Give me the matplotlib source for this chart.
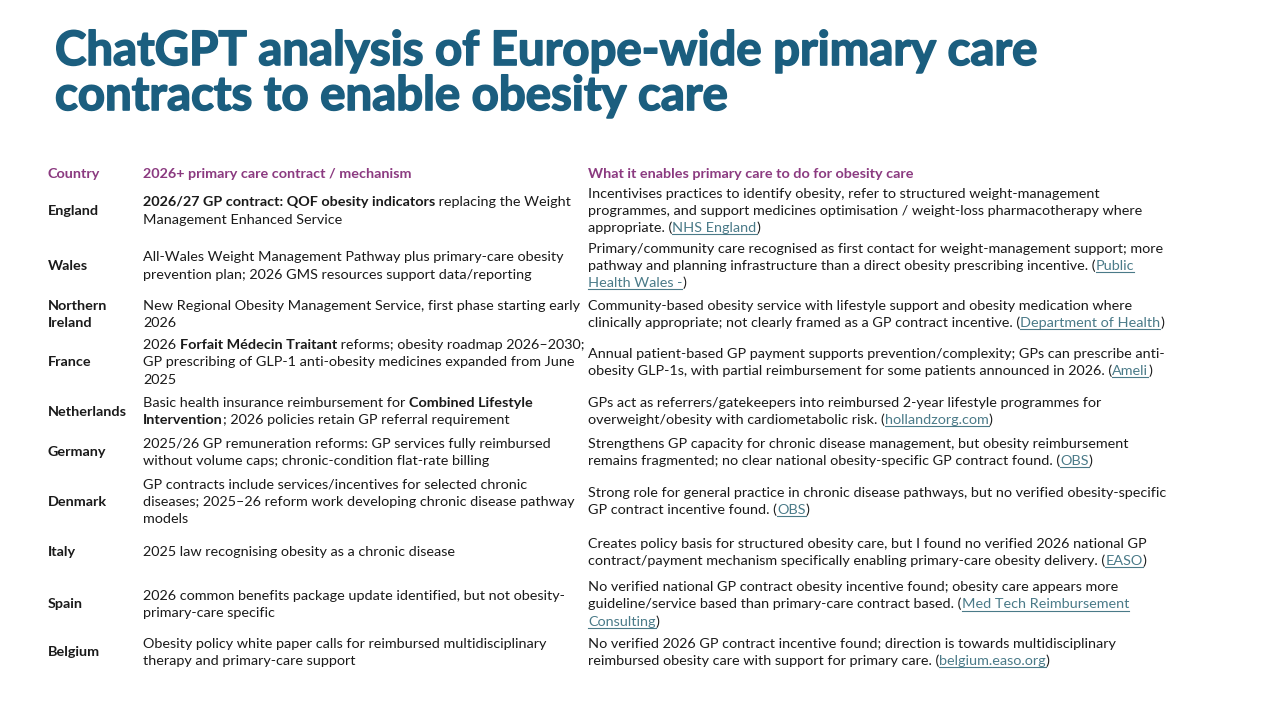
import re
import matplotlib
matplotlib.use("Agg")
import matplotlib.pyplot as plt
import matplotlib.patheffects as pe
from matplotlib.transforms import IdentityTransform
from matplotlib.lines import Line2D

# ---- table content (line breaks as on the slide; **bold**, [link]) ----
title_lines = ["ChatGPT analysis of Europe-wide primary care",
               "contracts to enable obesity care"]

headers = ["Country", "2026+ primary care contract / mechanism",
           "What it enables primary care to do for obesity care"]

countries = ["England", "Wales", "Northern\nIreland", "France", "Netherlands",
             "Germany", "Denmark", "Italy", "Spain", "Belgium"]

mechanisms = [
    ["**2026/27 GP contract: QOF obesity indicators** replacing the Weight",
     "Management Enhanced Service"],
    ["All-Wales Weight Management Pathway plus primary-care obesity",
     "prevention plan; 2026 GMS resources support data/reporting"],
    ["New Regional Obesity Management Service, first phase starting early",
     "2026"],
    ["2026 **Forfait Médecin Traitant** reforms; obesity roadmap 2026–2030;",
     "GP prescribing of GLP-1 anti-obesity medicines expanded from June",
     "2025"],
    ["Basic health insurance reimbursement for **Combined Lifestyle**",
     "**Intervention**; 2026 policies retain GP referral requirement"],
    ["2025/26 GP remuneration reforms: GP services fully reimbursed",
     "without volume caps; chronic-condition flat-rate billing"],
    ["GP contracts include services/incentives for selected chronic",
     "diseases; 2025–26 reform work developing chronic disease pathway",
     "models"],
    ["2025 law recognising obesity as a chronic disease"],
    ["2026 common benefits package update identified, but not obesity-",
     "primary-care specific"],
    ["Obesity policy white paper calls for reimbursed multidisciplinary",
     "therapy and primary-care support"],
]

enables = [
    ["Incentivises practices to identify obesity, refer to structured weight-management",
     "programmes, and support medicines optimisation / weight-loss pharmacotherapy where",
     "appropriate. ([NHS England])"],
    ["Primary/community care recognised as first contact for weight-management support; more",
     "pathway and planning infrastructure than a direct obesity prescribing incentive. ([Public]",
     "[Health Wales -])"],
    ["Community-based obesity service with lifestyle support and obesity medication where",
     "clinically appropriate; not clearly framed as a GP contract incentive. ([Department of Health])"],
    ["Annual patient-based GP payment supports prevention/complexity; GPs can prescribe anti-",
     "obesity GLP-1s, with partial reimbursement for some patients announced in 2026. ([Ameli])"],
    ["GPs act as referrers/gatekeepers into reimbursed 2-year lifestyle programmes for",
     "overweight/obesity with cardiometabolic risk. ([hollandzorg.com])"],
    ["Strengthens GP capacity for chronic disease management, but obesity reimbursement",
     "remains fragmented; no clear national obesity-specific GP contract found. ([OBS])"],
    ["Strong role for general practice in chronic disease pathways, but no verified obesity-specific",
     "GP contract incentive found. ([OBS])"],
    ["Creates policy basis for structured obesity care, but I found no verified 2026 national GP",
     "contract/payment mechanism specifically enabling primary-care obesity delivery. ([EASO])"],
    ["No verified national GP contract obesity incentive found; obesity care appears more",
     "guideline/service based than primary-care contract based. ([Med Tech Reimbursement]",
     "[Consulting])"],
    ["No verified 2026 GP contract incentive found; direction is towards multidisciplinary",
     "reimbursed obesity care with support for primary care. ([belgium.easo.org])"],
]

# ---- layout (pixels, image coordinates from top) ----
W, H = 1280, 720
col_x = [48, 143, 588]
header_base = 178
row_centers = [210, 265, 313.5, 361.5, 410.5, 451.5, 500.5, 551.5, 603.5, 651.5]
line_gap = 17.3
base_off = 5

FONT = "Lato"
BODY = 10.4
TITLE_C = "#1b5e7f"
HEAD_C = "#8b3a80"
TEXT_C = "#1a1a1a"
LINK_C = "#4a7a88"

fig = plt.figure(figsize=(12.8, 7.2), dpi=100)
fig.patch.set_facecolor("white")
renderer = fig.canvas.get_renderer()
ident = IdentityTransform()


def put(x, y, s, **kw):
    t = fig.text(x, H - y, s, transform=ident, va="baseline", ha="left",
                 family=FONT, **kw)
    return t


def advance(s, **kw):
    # width including trailing spaces
    a = fig.text(0, 0, s + "|", transform=ident, family=FONT, **kw)
    b = fig.text(0, 0, "|", transform=ident, family=FONT, **kw)
    w = a.get_window_extent(renderer).width - b.get_window_extent(renderer).width
    a.remove()
    b.remove()
    return w


def draw_line(x, y, line, size=BODY):
    for part in re.split(r"(\*\*.*?\*\*|\[.*?\])", line):
        if not part:
            continue
        if part.startswith("**"):
            txt, kw = part[2:-2], dict(fontsize=size, weight="bold", color=TEXT_C)
        elif part.startswith("["):
            txt, kw = part[1:-1], dict(fontsize=size, color=LINK_C)
        else:
            txt, kw = part, dict(fontsize=size, color=TEXT_C)
        put(x, y, txt, **kw)
        w = advance(txt, **kw)
        if part.startswith("["):
            fig.add_artist(Line2D([x, x + w], [H - y - 2, H - y - 2],
                                  transform=ident, color=LINK_C, lw=0.8))
        x += w


# title
for i, tl in enumerate(title_lines):
    put(55, 65 + 45 * i, tl, fontsize=34.1, weight="bold", color=TITLE_C,
        path_effects=[pe.withStroke(linewidth=1.2, foreground=TITLE_C)])

# header
for x, h in zip(col_x, headers):
    put(x, header_base, h, fontsize=BODY, weight="bold", color=HEAD_C)

# rows
for yc, c, mech, en in zip(row_centers, countries, mechanisms, enables):
    for cx, lines in ((col_x[0], c.split("\n")), (col_x[1], mech), (col_x[2], en)):
        y0 = yc - line_gap * (len(lines) - 1) / 2 + base_off
        for k, ln in enumerate(lines):
            if cx == col_x[0]:
                put(cx, y0 + k * line_gap, ln, fontsize=BODY, weight="bold", color=TEXT_C)
            else:
                draw_line(cx, y0 + k * line_gap, ln)

fig.savefig("out.png", dpi=100, facecolor="white")
